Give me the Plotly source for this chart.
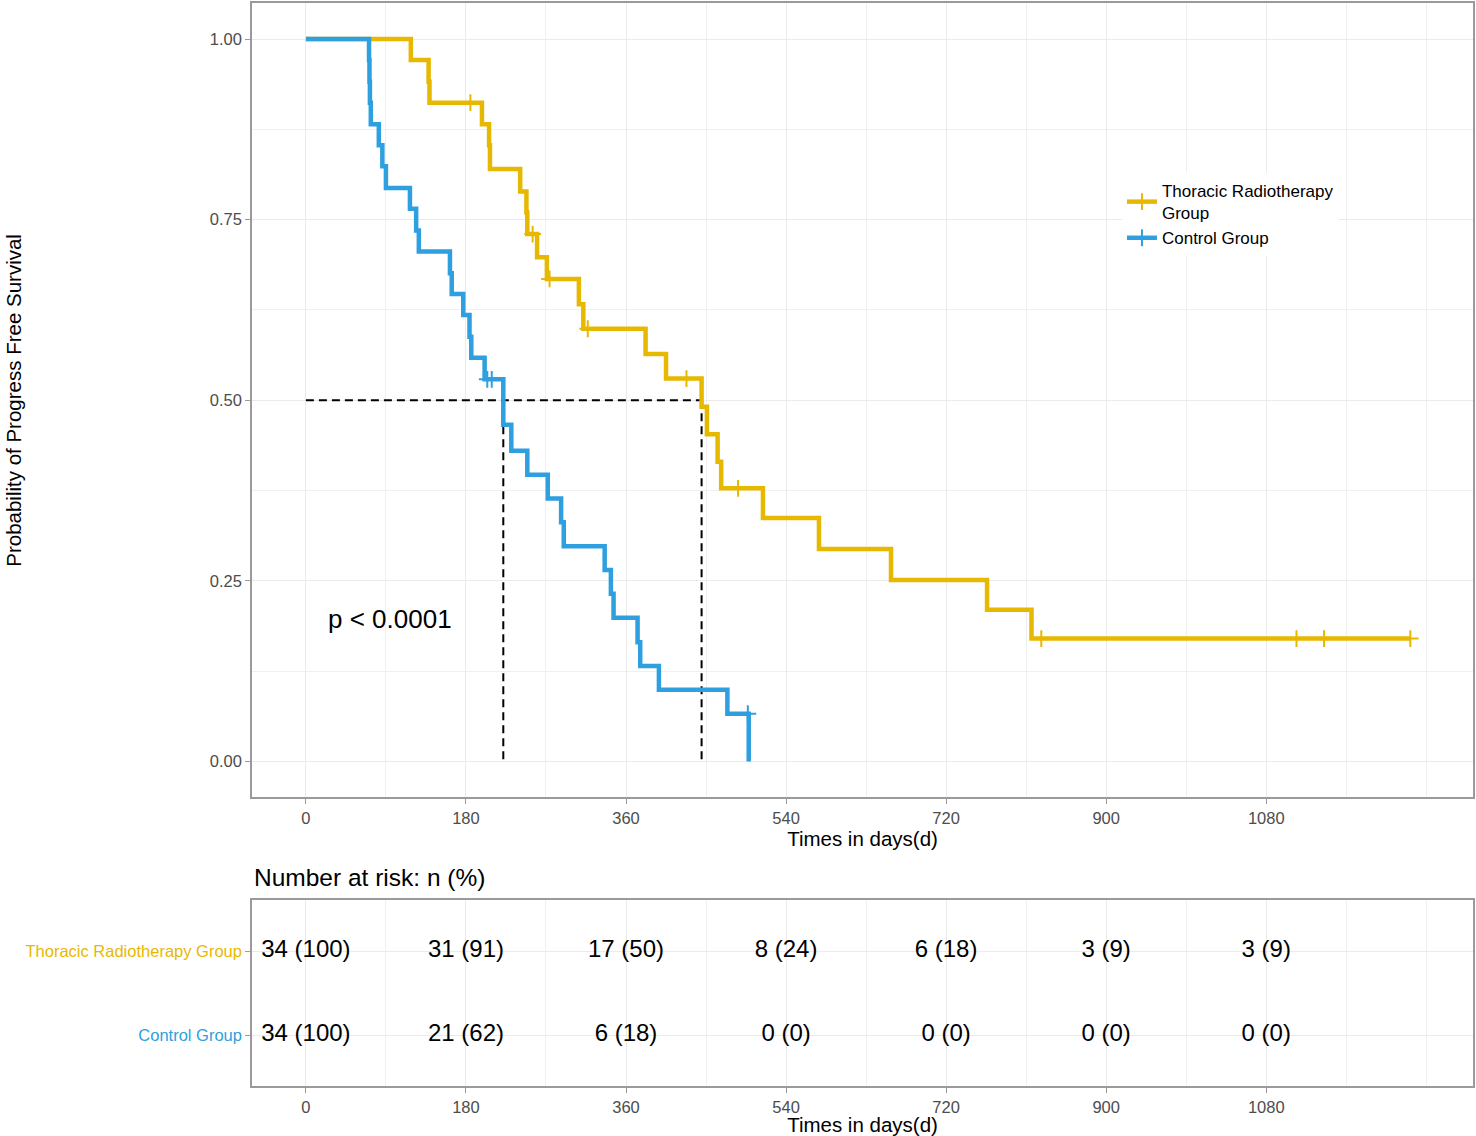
import numpy as np
import plotly.graph_objects as go
from plotly.subplots import make_subplots

# step curves (days, survival)
ctrl_time = [0, 71, 71.5, 72, 73, 82, 86, 90, 117, 124, 127, 162, 164, 177, 184, 186,
             201, 222, 231, 249, 272, 287, 290, 336, 343, 346, 373, 376, 397, 474, 498]
ctrl_surv = [1.0, 0.971, 0.941, 0.912, 0.882, 0.853, 0.824, 0.794, 0.765, 0.735, 0.706,
             0.676, 0.647, 0.618, 0.588, 0.559, 0.529, 0.466, 0.430, 0.397, 0.364, 0.331,
             0.298, 0.265, 0.232, 0.199, 0.165, 0.132, 0.099, 0.066, 0.0]
ctrl_censor = [204, 209, 497]

trt_time = [0, 118, 138, 139, 198, 206, 207, 241, 248, 249, 260, 271, 307, 312, 382,
            405, 445, 451, 463, 467, 514, 577, 658, 766, 816]
trt_surv = [1.0, 0.971, 0.941, 0.912, 0.882, 0.853, 0.820, 0.789, 0.760, 0.730, 0.698,
            0.668, 0.633, 0.599, 0.564, 0.530, 0.491, 0.453, 0.415, 0.378, 0.337, 0.294,
            0.251, 0.210, 0.170]
trt_censor = [185, 255, 274, 317, 428, 486, 827, 1114, 1145, 1242]

# number at risk table
risk_times = [0, 180, 360, 540, 720, 900, 1080]
trt_risk = ["34 (100)", "31 (91)", "17 (50)", "8 (24)", "6 (18)", "3 (9)", "3 (9)"]
ctrl_risk = ["34 (100)", "21 (62)", "6 (18)", "0 (0)", "0 (0)", "0 (0)", "0 (0)"]

groups = ["Thoracic Radiotherapy Group", "Control Group"]
colors = ["#E7B800", "#2E9FDF"]
p_text = "p < 0.0001"

FONT = "Liberation Sans, Arial, sans-serif"
GRID = "#EBEBEB"
MINOR = "#F0F0F0"
BORDER = "#9A9A9A"
TICKC = "#4D4D4D"


def surv_at(times, surv, t):
    idx = np.searchsorted(times, t, side="right") - 1
    return surv[idx]


def median_time(times, surv):
    for t, s in zip(times, surv):
        if s <= 0.5:
            return t
    return None


fig = make_subplots(rows=2, cols=1, vertical_spacing=0.0)

curves = [(trt_time, trt_surv, trt_censor), (ctrl_time, ctrl_surv, ctrl_censor)]

# median reference lines
medians = [median_time(t, s) for t, s, _ in curves]
mmax = max(medians)
dash_line = dict(color="black", width=2, dash="8px,5px")
fig.add_trace(go.Scatter(x=[0, mmax], y=[0.5, 0.5], mode="lines", showlegend=False,
                         line=dash_line), row=1, col=1)
for m in medians:
    fig.add_trace(go.Scatter(x=[m, m], y=[0.5, 0], mode="lines", showlegend=False,
                             line=dash_line), row=1, col=1)

for (t, s, c), name, col in zip(curves, groups, colors):
    xs, ys = list(t), list(s)
    if max(c) > xs[-1]:
        xs.append(max(c))
        ys.append(ys[-1])
    fig.add_trace(go.Scatter(x=xs, y=ys, mode="lines", line_shape="hv", showlegend=False,
                             line=dict(color=col, width=4.5)), row=1, col=1)
    cy = [surv_at(t, s, ci) for ci in c]
    fig.add_trace(go.Scatter(x=c, y=cy, mode="markers", showlegend=False,
                             marker=dict(symbol="cross-thin", size=12, color=col,
                                         line=dict(color=col, width=2))), row=1, col=1)

# legend-only entries
for name, col in zip(["Thoracic Radiotherapy<br>Group", "Control Group"], colors):
    fig.add_trace(go.Scatter(x=[None], y=[None], mode="lines+markers", name=name,
                             line=dict(color=col, width=4.5),
                             marker=dict(symbol="line-ns", size=12, color=col,
                                         line=dict(color=col, width=2))), row=1, col=1)

# risk table
for risk, ypos in zip([trt_risk, ctrl_risk], [2, 1]):
    fig.add_trace(go.Scatter(x=risk_times, y=[ypos] * len(risk_times), mode="text",
                             text=risk, showlegend=False,
                             textfont=dict(size=24, color="black", family=FONT)),
                  row=2, col=1)

xr = [-60.6, 1312.5]
xaxis_common = dict(range=xr, tickmode="array", tickvals=risk_times, ticks="outside",
                    ticklen=5, tickcolor=BORDER, tickwidth=1.2,
                    tickfont=dict(size=16.5, color=TICKC, family=FONT),
                    showgrid=True, gridcolor=GRID, gridwidth=1,
                    minor=dict(dtick=90, tick0=90, showgrid=True, gridcolor=MINOR, gridwidth=1),
                    showline=True, linecolor=BORDER, linewidth=1.5, mirror=True,
                    zeroline=False,
                    title=dict(text="Times in days(d)", standoff=2,
                               font=dict(size=20.5, color="black", family=FONT)))

fig.update_layout(
    width=1476, height=1136,
    margin=dict(l=252, r=1, t=1, b=50),
    plot_bgcolor="white", paper_bgcolor="white",
    font=dict(family=FONT),
    xaxis=dict(domain=[0, 1], anchor="y", **xaxis_common),
    xaxis2=dict(domain=[0, 1], anchor="y2", **xaxis_common),
    yaxis=dict(domain=[0.2664, 1], range=[-0.05, 1.05], tickvals=[0, 0.25, 0.5, 0.75, 1.0],
               tickformat=".2f", ticks="outside", ticklen=5, tickcolor=BORDER, tickwidth=1.2,
               tickfont=dict(size=16.5, color=TICKC, family=FONT),
               showgrid=True, gridcolor=GRID,
               minor=dict(dtick=0.25, tick0=0.125, showgrid=True, gridcolor=MINOR),
               showline=True, linecolor=BORDER, linewidth=1.5, mirror=True, zeroline=False),
    yaxis2=dict(domain=[0, 0.1714], range=[0.4, 2.6], tickmode="array", tickvals=[2, 1],
                ticktext=[f"<span style='color:{colors[0]}'>{groups[0]}</span>",
                          f"<span style='color:{colors[1]}'>{groups[1]}</span>"],
                ticks="outside", ticklen=5, tickcolor=BORDER, tickwidth=1.2,
                tickfont=dict(size=16.5, family=FONT),
                showgrid=True, gridcolor=GRID,
                showline=True, linecolor=BORDER, linewidth=1.5, mirror=True, zeroline=False),
    legend=dict(x=0.7125, y=0.843, xanchor="left", yanchor="top", bgcolor="white",
                font=dict(size=17, color="black", family=FONT), tracegroupgap=0,
                itemwidth=30),
)

fig.add_annotation(text=p_text, x=95, y=0.197, xref="x", yref="y", showarrow=False,
                   font=dict(size=26, color="black", family=FONT))
fig.add_annotation(text="Probability of Progress Free Survival", textangle=-90,
                   x=-0.1955, y=0.633, xref="paper", yref="paper", xanchor="center",
                   yanchor="middle", showarrow=False,
                   font=dict(size=20.5, color="black", family=FONT))
fig.add_annotation(text="Number at risk: n (%)", x=0, y=0.1926, xref="paper", yref="paper",
                   xanchor="left", yanchor="middle", showarrow=False,
                   font=dict(size=24.5, color="black", family=FONT))

fig.write_html("out.html", config={"displayModeBar": False},
               post_script="document.body.style.margin='0px';")
